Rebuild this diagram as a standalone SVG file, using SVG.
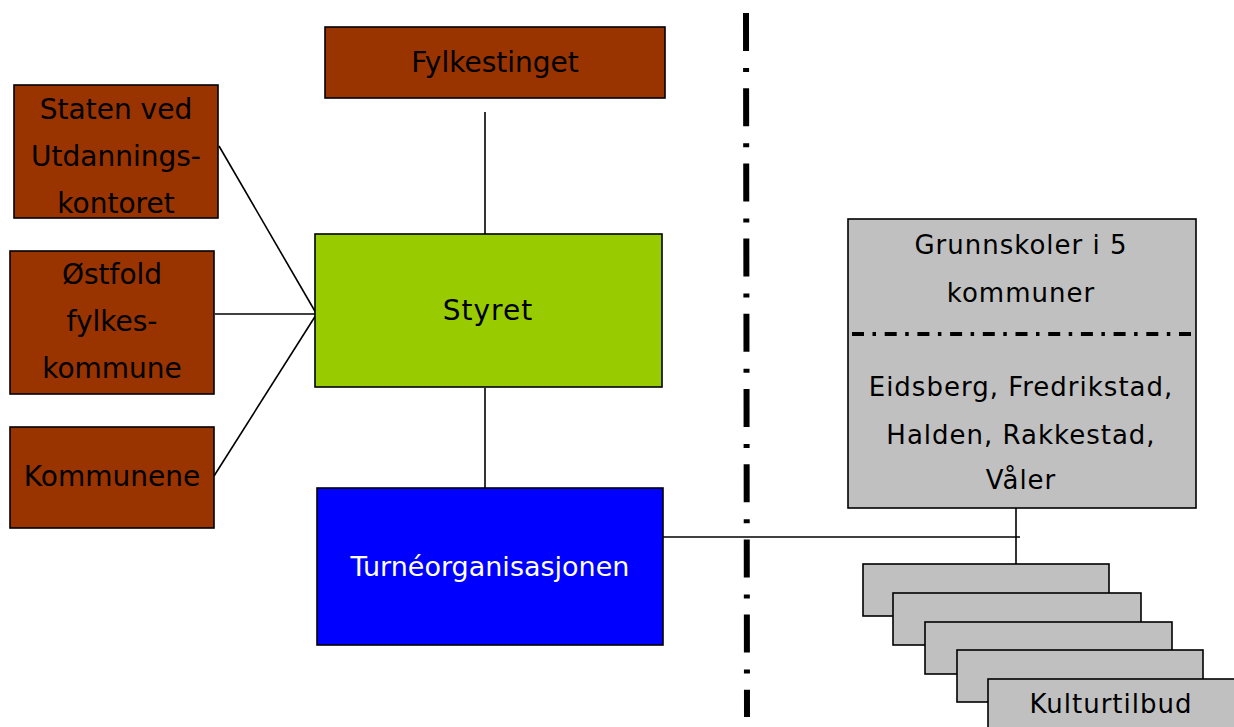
<svg xmlns="http://www.w3.org/2000/svg" width="1234" height="727" viewBox="0 0 1234 727">
<style>
.box{stroke:#000;stroke-width:1.6}
.brown{fill:#993300}
.gray{fill:#C0C0C0}
.t{font-family:"DejaVu Sans",Verdana,sans-serif;text-anchor:middle;fill:#000}
.l{font-size:28px}
.r{font-size:26px;letter-spacing:1px}
.con{stroke:#000;stroke-width:1.6;fill:none}
</style>
<rect width="1234" height="727" fill="#fff"/>
<g id="divider">
<line x1="746" y1="13" x2="747" y2="717" stroke="#000" stroke-width="6" stroke-dasharray="38 17 4 16.2"/>
</g>
<g id="connectors">
<line class="con" x1="485" y1="112" x2="485" y2="234"/>
<line class="con" x1="485" y1="388" x2="485" y2="488"/>
<line class="con" x1="219" y1="146" x2="316" y2="313"/>
<line class="con" x1="215" y1="314" x2="318" y2="314"/>
<line class="con" x1="214" y1="476" x2="316" y2="315"/>
<line class="con" x1="663" y1="537" x2="1020" y2="537"/>
<line class="con" x1="1016" y1="508" x2="1016" y2="564"/>
</g>
<g id="fylkestinget">
<rect class="box brown" x="325" y="27" width="340" height="71"/>
<text class="t l" x="495" y="72">Fylkestinget</text>
</g>
<g id="staten">
<rect class="box brown" x="14" y="85" width="204" height="133"/>
<text class="t l" x="116" y="119">Staten ved</text>
<text class="t l" x="116" y="166">Utdannings-</text>
<text class="t l" x="116" y="213">kontoret</text>
</g>
<g id="ostfold">
<rect class="box brown" x="10" y="251" width="204" height="143"/>
<text class="t l" x="112" y="284">Østfold</text>
<text class="t l" x="112" y="331">fylkes-</text>
<text class="t l" x="112" y="378">kommune</text>
</g>
<g id="kommunene">
<rect class="box brown" x="10" y="427" width="204" height="101"/>
<text class="t l" x="112" y="486">Kommunene</text>
</g>
<g id="styret">
<rect class="box" fill="#99CC00" x="315" y="234" width="347" height="153"/>
<text class="t l" x="488" y="320" style="letter-spacing:1px">Styret</text>
</g>
<g id="turne">
<rect class="box" fill="#0000FF" x="317" y="488" width="346" height="157"/>
<text class="t" x="490" y="576" style="font-size:27px;fill:#fff">Turnéorganisasjonen</text>
</g>
<g id="grunnskoler">
<rect class="box gray" x="848" y="219" width="348" height="289"/>
<line x1="852" y1="334" x2="1191" y2="334" stroke="#000" stroke-width="4" stroke-dasharray="12 8.5 3.5 8.7"/>
<text class="t r" x="1021" y="254">Grunnskoler i 5</text>
<text class="t r" x="1021" y="302">kommuner</text>
<text class="t r" x="1021" y="396">Eidsberg, Fredrikstad,</text>
<text class="t r" x="1021" y="444">Halden, Rakkestad,</text>
<text class="t r" x="1021" y="489">Våler</text>
</g>
<g id="kulturtilbud">
<rect class="box gray" x="863" y="564" width="246" height="52"/>
<rect class="box gray" x="893" y="593" width="248" height="52"/>
<rect class="box gray" x="925" y="622" width="247" height="52"/>
<rect class="box gray" x="957" y="650" width="246" height="52"/>
<rect class="box gray" x="988" y="679" width="250" height="60"/>
<text class="t r" x="1111" y="713">Kulturtilbud</text>
</g>
</svg>
